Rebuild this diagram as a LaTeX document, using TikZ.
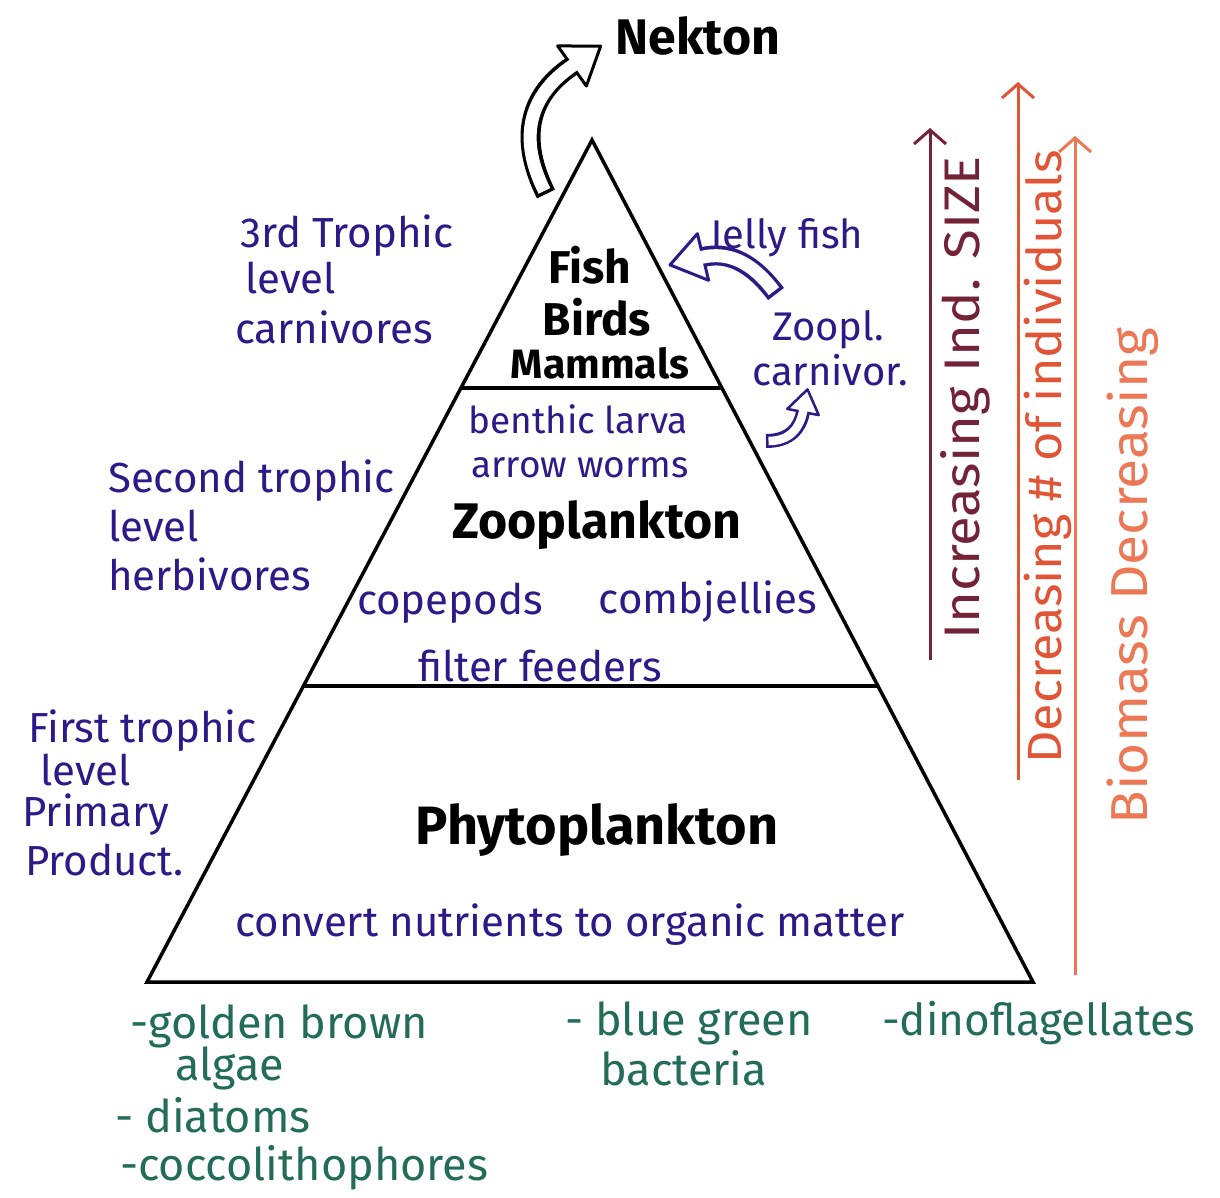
\documentclass[tikz,border=0pt]{standalone}
\usepackage{fontspec}
\setmainfont{Fira Sans}
\usetikzlibrary{arrows.meta,calc}
\definecolor{inkblue}{RGB}{45,25,135}
\definecolor{inkgreen}{RGB}{35,108,90}
\definecolor{inkmaroon}{RGB}{115,35,55}
\definecolor{inkred}{RGB}{225,85,55}
\definecolor{inkorange}{RGB}{236,120,85}
\begin{document}
\begin{tikzpicture}[x=1pt,y=-1pt,
  blk/.style={font=\fontsize{46}{50}\selectfont\bfseries, text=black, inner sep=0pt},
  ink/.style={font=\fontsize{42}{46}\selectfont, text=inkblue, inner sep=0pt},
  grn/.style={font=\fontsize{45}{48}\selectfont, text=inkgreen, inner sep=0pt},
  sidetxt/.style={rotate=90, inner sep=0pt},
  edge/.style={line width=3.5pt, line join=miter},
  sidearrow/.style={line width=3pt, -{Straight Barb[length=14pt,width=32pt,line width=3pt]}},
  headshape/.style={line width=3pt, line join=round, fill=white},
]
\useasboundingbox (0,0) rectangle (1220,1197);
\fill[white] (0,0) rectangle (1220,1197);

% ---------------- pyramid ----------------
\coordinate (apex) at (592,140);
\coordinate (bl) at (147,982);
\coordinate (br) at (1033,982);
\coordinate (l1) at ($(apex)!0.2945!(bl)$);
\coordinate (r1) at ($(apex)!0.2945!(br)$);
\coordinate (l2) at ($(apex)!0.6485!(bl)$);
\coordinate (r2) at ($(apex)!0.6485!(br)$);
\draw[edge] (apex) -- (bl) -- (br) -- cycle;
\draw[edge] (l1) -- (r1);
\draw[edge] (l2) -- (r2);

% ---------------- top: Nekton ----------------
\node[blk, anchor=base, font=\fontsize{50}{54}\selectfont\bfseries] (nekton) at (698,54) {Nekton};
\coordinate (nekTail) at (546,194);
\coordinate (nekBase) at (572,66);
\draw[headshape, draw=black] (586.4,86.0) -- (600.6,46.2) -- (557.6,45.9) -- cycle;
\draw[line width=20pt, black] (nekTail) .. controls (514,130) and (536,90) .. (nekBase);
\draw[line width=13pt, white, shorten <=3.5pt, shorten >=-2pt] (nekTail) .. controls (514,130) and (536,90) .. (nekBase);

% ---------------- top tier ----------------
\node[blk, anchor=base] (fish) at (590,283) {Fish};
\node[blk, anchor=base] (birds) at (597,335) {Birds};
\node[blk, anchor=base, font=\fontsize{41}{44}\selectfont\bfseries] (mammals) at (600,378) {Mammals};

\node[ink, anchor=base west] (t3a) at (240,247) {3rd Trophic};
\node[ink, anchor=base west] (t3b) at (245,293) {level};
\node[ink, anchor=base west] (t3c) at (235,343) {carnivores};

\node[ink, anchor=base, font=\fontsize{40}{44}\selectfont] (jelly) at (787,248) {Jelly fish};
\node[ink, anchor=base, font=\fontsize{40}{44}\selectfont] (zoopl) at (828,340) {Zoopl.};
\node[ink, anchor=base, font=\fontsize{40}{44}\selectfont] (carniv) at (830,385) {carnivor.};

% jelly fish hollow arrow
\coordinate (jTail) at (776,294);
\coordinate (jBase) at (703,257);
\draw[headshape, draw=inkblue] (708.6,280.3) -- (670,264.9) -- (697.4,233.7) -- cycle;
\draw[line width=20pt, inkblue] (jTail) .. controls (752,262) and (728,251) .. (jBase);
\draw[line width=13pt, white, shorten <=3.5pt, shorten >=-2pt] (jTail) .. controls (752,262) and (728,251) .. (jBase);

% small hollow arrow
\coordinate (sTail) at (766,441);
\coordinate (sBase) at (803,412);
\draw[headshape, draw=inkblue, line width=2.5pt] (818.7,415.1) -- (807.5,389.4) -- (787.3,408.9) -- cycle;
\draw[line width=14pt, inkblue] (sTail) .. controls (790,441) and (800,428) .. (sBase);
\draw[line width=8.5pt, white, shorten <=2.5pt, shorten >=-2pt] (sTail) .. controls (790,441) and (800,428) .. (sBase);

% ---------------- middle tier ----------------
\node[ink, anchor=base, font=\fontsize{37}{40}\selectfont] (benthic) at (578,433) {benthic larva};
\node[ink, anchor=base, font=\fontsize{37}{40}\selectfont] (arroww) at (580,477) {arrow worms};
\node[blk, anchor=base, font=\fontsize{50}{54}\selectfont\bfseries] (zoo) at (597,538) {Zooplankton};
\node[ink, anchor=base] (cope) at (450,614) {copepods};
\node[ink, anchor=base] (comb) at (708,613) {combjellies};
\node[ink, anchor=base] (filter) at (540,681) {filter feeders};

\node[ink, anchor=base west] (t2a) at (108,492) {Second trophic};
\node[ink, anchor=base west] (t2b) at (108,541) {level};
\node[ink, anchor=base west] (t2c) at (108,590) {herbivores};

% ---------------- bottom tier ----------------
\node[ink, anchor=base west] (t1a) at (28,742) {First trophic};
\node[ink, anchor=base west] (t1b) at (40,785) {level};
\node[ink, anchor=base west] (t1c) at (22,826) {Primary};
\node[ink, anchor=base west] (t1d) at (25,875) {Product.};

\node[blk, anchor=base, font=\fontsize{54}{58}\selectfont\bfseries] (phyto) at (597,844) {Phytoplankton};
\node[ink, anchor=base] (convert) at (570,936) {convert nutrients to organic matter};

% ---------------- below base ----------------
\node[grn, anchor=base west] (g1) at (130,1038) {-golden brown};
\node[grn, anchor=base west] (g2) at (175,1080) {algae};
\node[grn, anchor=base west] (g3) at (115,1132) {- diatoms};
\node[grn, anchor=base west] (g4) at (120,1180) {-coccolithophores};
\node[grn, anchor=base west] (g5) at (565,1035) {- blue green};
\node[grn, anchor=base west] (g6) at (600,1085) {bacteria};
\node[grn, anchor=base west, font=\fontsize{44}{48}\selectfont] (g7) at (882,1035) {-dinoflagellates};

% ---------------- right-side arrows ----------------
\coordinate (a1s) at (930,660);
\coordinate (a1e) at (930,128);
\coordinate (a2s) at (1018,780);
\coordinate (a2e) at (1018,82);
\coordinate (a3s) at (1075,975);
\coordinate (a3e) at (1075,136);
\draw[sidearrow, inkmaroon] (a1s) -- (a1e);
\draw[sidearrow, inkred] (a2s) -- (a2e);
\draw[sidearrow, inkorange] (a3s) -- (a3e);
\node[sidetxt, text=inkmaroon, font=\fontsize{50}{54}\selectfont] (size) at (965,398) {\scalebox{1.09}[1]{Increasing Ind. SIZE}};
\node[sidetxt, text=inkred, font=\fontsize{48}{52}\selectfont] (indiv) at (1048,457) {\scalebox{1.05}[1]{Decreasing \# of individuals}};
\node[sidetxt, text=inkorange, font=\fontsize{52}{56}\selectfont] (biomass) at (1133,576) {\scalebox{1.06}[1]{Biomass Decreasing}};
\end{tikzpicture}
\end{document}
